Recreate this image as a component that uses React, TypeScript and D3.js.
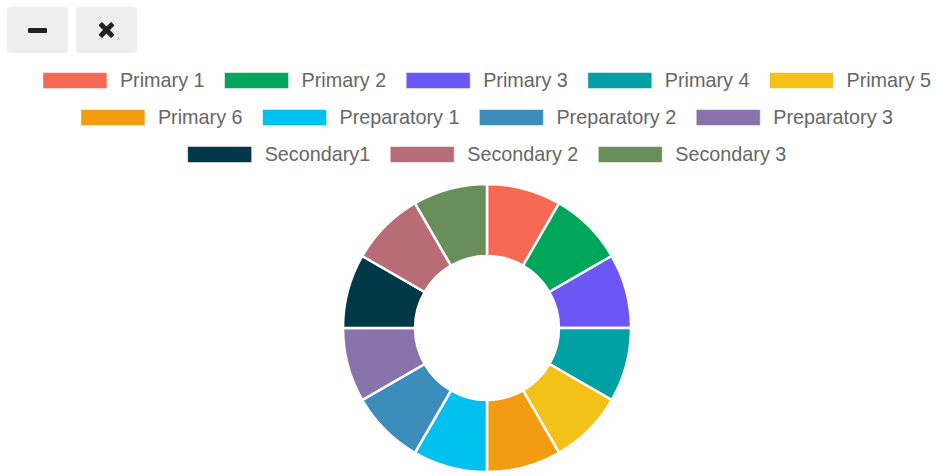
import React from "react";
import * as d3 from "d3";

const labels = [
  "Primary 1", "Primary 2", "Primary 3", "Primary 4", "Primary 5", "Primary 6",
  "Preparatory 1", "Preparatory 2", "Preparatory 3",
  "Secondary1", "Secondary 2", "Secondary 3",
];
const values = [1, 1, 1, 1, 1, 1, 1, 1, 1, 1, 1, 1];
const colors = [
  "#f56954", "#00a65a", "#6a57f5", "#00a0a5", "#f3c117", "#f39c12",
  "#00c0ef", "#3c8dbc", "#8873aa", "#003847", "#b86d76", "#6a8e5a",
];

const W = 940, H = 476;
const FONT = "'Liberation Sans', Arial, sans-serif";
const FS = 19.8;

function measure(t: string) {
  const c = document.createElement("canvas").getContext("2d")!;
  c.font = `${FS}px ${FONT}`;
  return c.measureText(t).width;
}

function App() {
  const cx = 487, cy = 328, rOut = 144, rIn = 72;
  const pie = d3.pie<number>().value(d => d).sort(null);
  const arc = d3.arc<d3.PieArcDatum<number>>().innerRadius(rIn).outerRadius(rOut);
  const arcs = pie(values);

  // legend layout, wrapped rows centred on the chart
  const boxW = 64, boxH = 16, gapT = 13, gapI = 20, maxW = 920;
  const items = labels.map((l, i) => ({ l, i, w: boxW + gapT + measure(l) }));
  const rows: typeof items[] = [];
  let cur: typeof items = [], curW = 0;
  items.forEach(it => {
    const add = (cur.length ? gapI : 0) + it.w;
    if (cur.length && curW + add > maxW) { rows.push(cur); cur = []; curW = 0; }
    curW += (cur.length ? gapI : 0) + it.w;
    cur.push(it);
  });
  if (cur.length) rows.push(cur);

  return (
    <svg width={W} height={H} style={{ position: "absolute", left: 0, top: 0 }}>
      {/* buttons */}
      <rect x={7} y={7} width={61} height={46} rx={4} fill="#eeeeee" />
      <rect x={28} y={28} width={19} height={5} rx={1} fill="#222" />
      <rect x={76} y={7} width={61} height={46} rx={4} fill="#eeeeee" />
      <g transform="translate(106.5,30) rotate(45)">
        <rect x={-9} y={-2.5} width={18} height={5} rx={1} fill="#222" />
        <rect x={-2.5} y={-9} width={5} height={18} rx={1} fill="#222" />
      </g>
      {/* legend */}
      {rows.map((row, ri) => {
        const rw = d3.sum(row, d => d.w) + gapI * (row.length - 1);
        let x = cx - rw / 2;
        const y = 80.5 + ri * 37;
        return row.map(it => {
          const x0 = x;
          x += it.w + gapI;
          return (
            <g key={it.l}>
              <rect x={x0} y={y - boxH / 2} width={boxW} height={boxH} fill={colors[it.i]}
                stroke="#fff" strokeOpacity={0.5} strokeWidth={1} />
              <text x={x0 + boxW + gapT} y={y} dy="0.35em" fontFamily={FONT} fontSize={FS} fill="#666">{it.l}</text>
            </g>
          );
        });
      })}
      {/* donut */}
      <g transform={`translate(${cx},${cy})`}>
        {arcs.map((a, i) => (
          <path key={i} d={arc(a)!} fill={colors[i]} stroke="#fff" strokeWidth={2.5} />
        ))}
      </g>
    </svg>
  );
}

export default App;
